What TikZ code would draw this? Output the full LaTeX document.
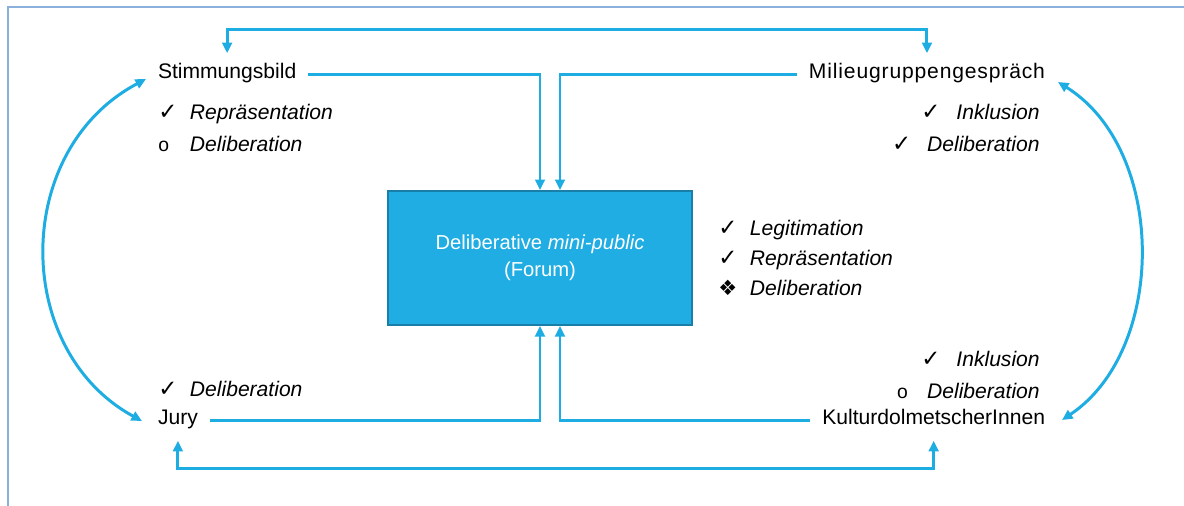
\documentclass[tikz,border=0pt]{standalone}
\usepackage{fontspec}
\setmainfont{Liberation Sans}
\newfontfamily\symfont{DejaVu Sans}
\usetikzlibrary{arrows.meta}
\definecolor{linkblue}{HTML}{1EADE3}
\definecolor{boxblue}{HTML}{1FADE3}
\definecolor{boxedge}{HTML}{1A7FA8}
\definecolor{framecol}{HTML}{8CB0DC}
\newcommand{\chk}{{\symfont\fontsize{13}{13}\selectfont ✓}}
\newcommand{\dmd}{{\symfont ❖}}
\newcommand{\opn}{{\fontsize{11}{11}\selectfont o}}
\newcommand{\itm}[2]{\makebox[18pt][l]{#1}\textit{#2}}
\tikzset{
  station/.style={inner sep=0pt,outer sep=0.24cm,text height=0.75em,text depth=0.25em,
    font=\fontsize{12}{14}\selectfont},
  props/.style={inner sep=0pt,font=\fontsize{12}{18}\selectfont},
  link/.style={draw=linkblue,line width=1.7pt,-{Triangle[length=6pt,width=5.5pt]}},
  both/.style={draw=linkblue,line width=1.7pt,
    {Triangle[length=6pt,width=5.5pt]}-{Triangle[length=6pt,width=5.5pt]}}
}
\begin{document}
\begin{tikzpicture}[x=0.02cm,y=-0.02cm]
\useasboundingbox (0,0) rectangle (1184,505);
\draw[framecol,line width=0.8pt] (1190,7) -- (8,7) -- (8,510);

\node[station,anchor=west] (stim) at (146,74) {Stimmungsbild};
\node[station,anchor=east] (milieu) at (1057,74) {\addfontfeatures{LetterSpace=4}Milieugruppengespräch};
\node[station,anchor=west] (jury) at (146,420) {Jury};
\node[station,anchor=east] (kultur) at (1057,420) {KulturdolmetscherInnen};

\node[draw=boxedge,line width=1.1pt,fill=boxblue,text=white,minimum width=6.08cm,minimum height=2.68cm,
  align=center,font=\fontsize{11.5}{15.5}\selectfont] (forum) at (540,258)
  {Deliberative \textit{mini-public}\\(Forum)};

\node[props,anchor=north west,align=left] (stimprops) at (158,104)
  {\itm{\chk}{Repräsentation}\\\itm{\opn}{Deliberation}};
\node[props,anchor=north east,align=right] (milieuprops) at (1040,104)
  {\chk\hspace{9pt}\textit{Inklusion}\\\chk\hspace{9pt}\textit{Deliberation}};
\node[props,anchor=north west,align=left,font=\fontsize{12}{17}\selectfont] (forumprops) at (718,220)
  {\itm{\chk}{Legitimation}\\\itm{\chk}{Repräsentation}\\\itm{\dmd}{Deliberation}};
\node[props,anchor=west] (juryprops) at (158,389) {\itm{\chk}{Deliberation}};
\node[props,anchor=north east,align=right] (kulturprops) at (1040,351)
  {\chk\hspace{9pt}\textit{Inklusion}\\\opn\hspace{11pt}\textit{Deliberation}};

% into the forum
\draw[link] (stim.east) -| (forum.north);
\draw[link] (milieu.west) -| ([xshift=0.4cm]forum.north);
\draw[link] (jury.east) -| (forum.south);
\draw[link] (kultur.west) -| ([xshift=0.4cm]forum.south);

% between the stations
\coordinate (topbar) at (0,29);
\coordinate (botbar) at (0,468);
\draw[both] (stim.north) -- (stim.north |- topbar) -| (milieu.north);
\draw[both] (jury.south) -- (jury.south |- botbar) -| (kultur.south);
\draw[both] ([shift={(0,5)}]stim.west) .. controls +(-134,71) and +(-130,-71) .. ([shift={(-4,1)}]jury.west);
\draw[both] ([shift={(1,8)}]milieu.east) .. controls +(109,68) and +(105,-70) .. ([shift={(5,0)}]kultur.east);
\end{tikzpicture}
\end{document}
